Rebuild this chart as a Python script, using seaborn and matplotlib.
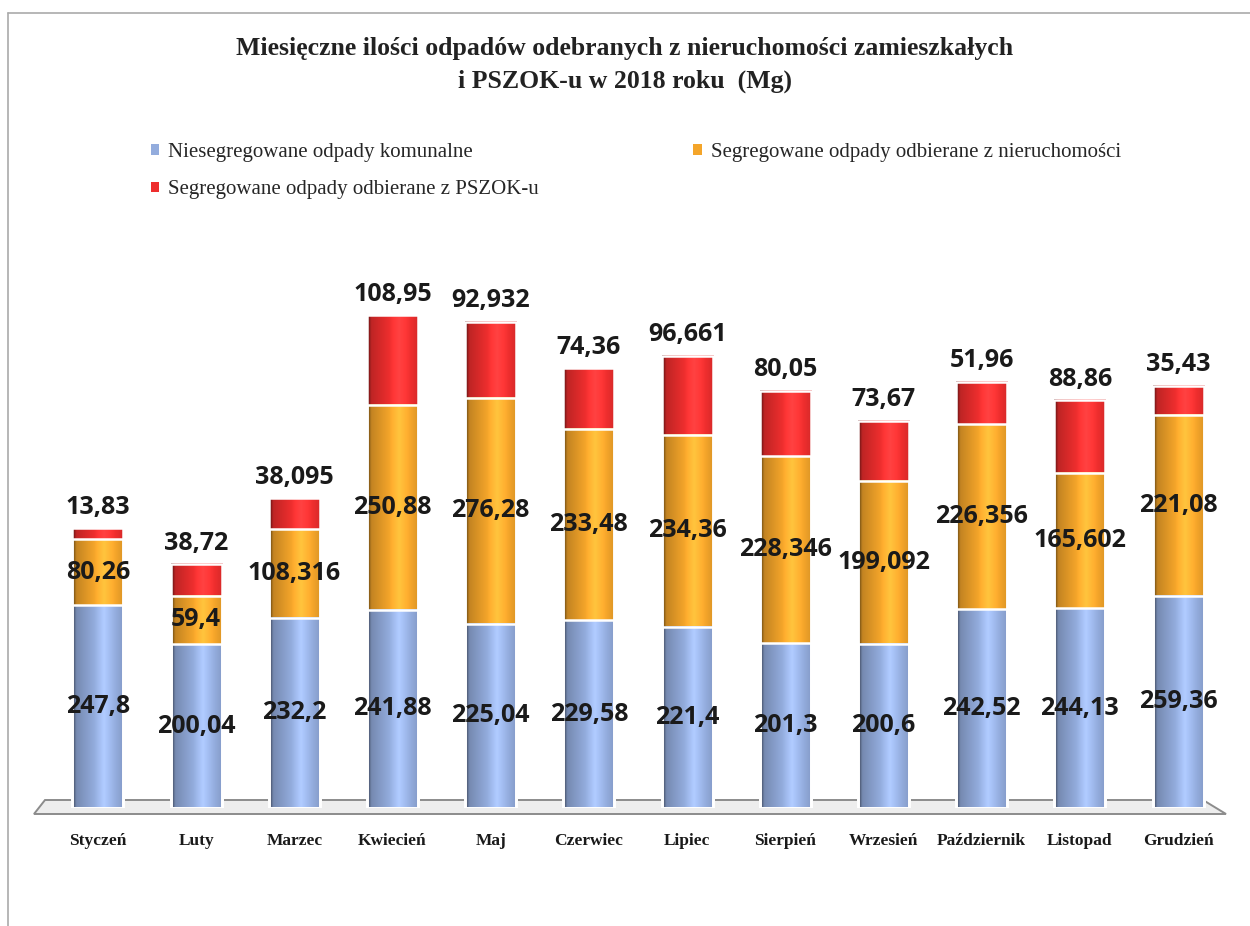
import numpy as np
import pandas as pd
import matplotlib
matplotlib.use("Agg")
import matplotlib.pyplot as plt
import seaborn as sns
from matplotlib.patches import Polygon, Patch
from matplotlib.lines import Line2D

# Chart data (Mg)
months = ["Styczeń", "Luty", "Marzec", "Kwiecień", "Maj", "Czerwiec", "Lipiec",
          "Sierpień", "Wrzesień", "Październik", "Listopad", "Grudzień"]
niesegregowane = [247.8, 200.04, 232.2, 241.88, 225.04, 229.58, 221.4,
                  201.3, 200.6, 242.52, 244.13, 259.36]
segregowane_nier = [80.26, 59.4, 108.316, 250.88, 276.28, 233.48, 234.36,
                    228.346, 199.092, 226.356, 165.602, 221.08]
segregowane_pszok = [13.83, 38.72, 38.095, 108.95, 92.932, 74.36, 96.661,
                     80.05, 73.67, 51.96, 88.86, 35.43]

series_names = ["Niesegregowane odpady komunalne",
                "Segregowane odpady odbierane z nieruchomości",
                "Segregowane odpady odbierane z PSZOK-u"]
colors = ["#93acdd", "#f4a52a", "#ee2e2e"]

df = pd.DataFrame({"miesiac": months, "nies": niesegregowane,
                   "seg": segregowane_nier, "pszok": segregowane_pszok})
df["c1"] = df["nies"]
df["c2"] = df["c1"] + df["seg"]
df["c3"] = df["c2"] + df["pszok"]

sns.set_theme(style="white")
plt.rcParams["font.family"] = ["Liberation Serif", "DejaVu Serif"]

fig = plt.figure(figsize=(12.5, 9.26), dpi=100)
W, H = 1250, 926
ax = fig.add_axes([39 / W, 1 - 808 / H, 1198 / W, 528 / H])
ax.set_facecolor("none")

# stacked bars: draw cumulative totals back to front
for col, c in zip(["c3", "c2", "c1"], colors[::-1]):
    sns.barplot(data=df, x="miesiac", y=col, color=c, saturation=1,
                width=0.52, edgecolor="white", linewidth=1.8, ax=ax)

# cylinder-like horizontal shading
t = np.linspace(0, 1, 80)
shade = np.interp(t, [0, 0.08, 0.5, 0.62, 0.85, 1.0], [0.35, 0.8, 1.04, 1.1, 1.0, 0.9])
for k, p in enumerate(list(ax.patches)):
    rgb = np.array(p.get_facecolor()[:3])
    img = np.clip(rgb[None, :] * shade[:, None] + np.clip(shade - 1, 0, None)[:, None] * 0.6, 0, 1)
    img = img[None, :, :]
    x0, y0, w, h = p.get_x(), p.get_y(), p.get_width(), p.get_height()
    ax.imshow(img, extent=[x0, x0 + w, y0, y0 + h], aspect="auto",
              interpolation="bilinear", zorder=1 + k * 0.01)
    p.set_facecolor("none")
    p.set_zorder(5)

ax.set_xlim(-0.6, 11.6)
ax.set_ylim(0, 645)
ax.set_xlabel("")
ax.set_ylabel("")
ax.set_yticks([])
sns.despine(ax=ax, left=True, bottom=True)
ax.tick_params(axis="x", length=0, pad=18)
for lbl in ax.get_xticklabels():
    lbl.set_fontweight("bold")
    lbl.set_fontsize(12.5)
    lbl.set_color("#1a1a1a")

# value labels
def fmt(v):
    return str(v).replace(".", ",")

lab_font = dict(family=["Open Sans", "DejaVu Sans"], fontweight="bold",
                fontsize=18, color="#1a1a1a", ha="center", zorder=10)
for i, row in df.iterrows():
    ax.text(i, row["c1"] / 2, fmt(row["nies"]), va="center", **lab_font)
    ax.text(i, (row["c1"] + row["c2"]) / 2, fmt(row["seg"]), va="center", **lab_font)
    ax.annotate(fmt(row["pszok"]), (i, row["c3"]), xytext=(0, 6),
                textcoords="offset points", va="bottom", **lab_font)

# floor of the pseudo-3D chart
floor = Polygon([(45 / W, 1 - 800 / H), (1203 / W, 1 - 800 / H),
                 (1226 / W, 1 - 814 / H), (34 / W, 1 - 814 / H)],
                closed=True, transform=fig.transFigure, facecolor="#ededed",
                edgecolor="#8c8c8c", linewidth=1.4, zorder=-1)
fig.patches.append(floor)

# scan frame
fig.lines.append(Line2D([8 / W, 8 / W], [0, 1 - 13 / H], transform=fig.transFigure,
                        color="#aaaaaa", linewidth=1.2))
fig.lines.append(Line2D([8 / W, 1], [1 - 13 / H, 1 - 13 / H], transform=fig.transFigure,
                        color="#aaaaaa", linewidth=1.2))

# title
fig.text(0.5, 1 - 48 / H, "Miesięczne ilości odpadów odebranych z nieruchomości zamieszkałych",
         ha="center", va="center", fontsize=18.5, fontweight="bold", color="#222222")
fig.text(0.5, 1 - 81 / H, "i PSZOK-u w 2018 roku  (Mg)",
         ha="center", va="center", fontsize=18.5, fontweight="bold", color="#222222")

# legend (row order: blue, orange / red)
handles = [Patch(facecolor=c, edgecolor="none") for c in colors]
order = [0, 2, 1]
fig.legend([handles[i] for i in order], [series_names[i] for i in order],
           loc="upper left", bbox_to_anchor=(132 / W, 1 - 124 / H), ncol=2,
           frameon=False, fontsize=15, handlelength=0.4, handleheight=0.4,
           handletextpad=0.45, columnspacing=7.4, labelspacing=0.9)

fig.savefig("out.png", dpi=100)
